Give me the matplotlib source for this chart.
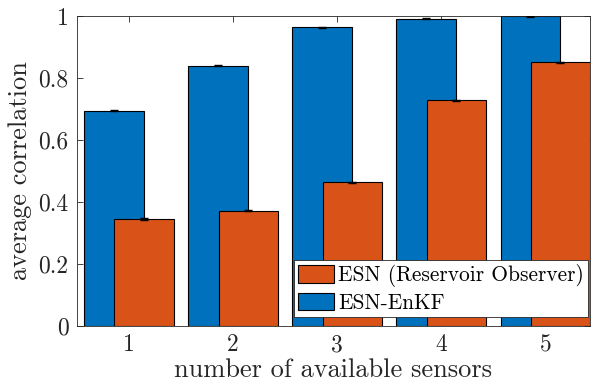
import matplotlib
matplotlib.use("Agg")
import matplotlib.pyplot as plt
import numpy as np

plt.rcParams['font.family'] = ['cmr10', 'DejaVu Serif']
plt.rcParams['mathtext.fontset'] = 'cm'
plt.rcParams['axes.unicode_minus'] = False

sensors = [1, 2, 3, 4, 5]
enkf_vals = [0.695, 0.840, 0.963, 0.991, 0.999]
esn_vals = [0.345, 0.372, 0.463, 0.728, 0.851]
enkf_err = [0.002, 0.002, 0.002, 0.002, 0.001]
esn_err = [0.002, 0.002, 0.002, 0.002, 0.002]
xtick_labels = ['1', '2', '3', '4', '5']
yticks = [0, 0.2, 0.4, 0.6, 0.8, 1]
ytick_labels = ['0', '0.2', '0.4', '0.6', '0.8', '1']

blue = '#0072BD'
orange = '#D95319'
axc = '#262626'

fig = plt.figure(figsize=(5.97, 3.90), dpi=100)
ax = fig.add_axes([77/597, 1 - 326/390, (590-77)/597, (326-16)/390])

x = np.array(sensors, dtype=float)
w = 0.57
off = 0.145
b1 = ax.bar(x - off, enkf_vals, w, color=blue, edgecolor='black', linewidth=0.8,
            label='ESN-EnKF', zorder=2)
b2 = ax.bar(x + off, esn_vals, w, color=orange, edgecolor='black', linewidth=0.8,
            label='ESN (Reservoir Observer)', zorder=3)
ax.errorbar(x - off, enkf_vals, yerr=enkf_err, fmt='none', ecolor='black',
            elinewidth=0.8, capsize=3, zorder=4)
ax.errorbar(x + off, esn_vals, yerr=esn_err, fmt='none', ecolor='black',
            elinewidth=0.8, capsize=3, zorder=4)

ax.set_xlim(0.5, 5.43)
ax.set_ylim(0, 1)
ax.set_xticks(x)
ax.set_xticklabels(xtick_labels)
ax.set_yticks(yticks)
ax.set_yticklabels(ytick_labels)
ax.tick_params(direction='in', top=True, right=True, labelsize=17, colors=axc,
               length=4, width=0.6, pad=6)
for sp in ax.spines.values():
    sp.set_color(axc)
    sp.set_linewidth(0.6)
ax.set_xlabel('number of available sensors', fontsize=19, color=axc, labelpad=1)
ax.set_ylabel('average correlation', fontsize=19, color=axc, labelpad=5)

leg = ax.legend(handles=[b2, b1], loc='lower right', fontsize=15.4,
                frameon=True, fancybox=False, edgecolor=axc, framealpha=1,
                bbox_to_anchor=(588/597, 1 - 317/390), bbox_transform=fig.transFigure,
                borderaxespad=0, handlelength=1.68, handleheight=0.89,
                handletextpad=0.19, labelspacing=0.25, borderpad=0.2)
leg.get_frame().set_linewidth(0.6)
leg.set_zorder(10)

fig.savefig('out.png', dpi=100)
